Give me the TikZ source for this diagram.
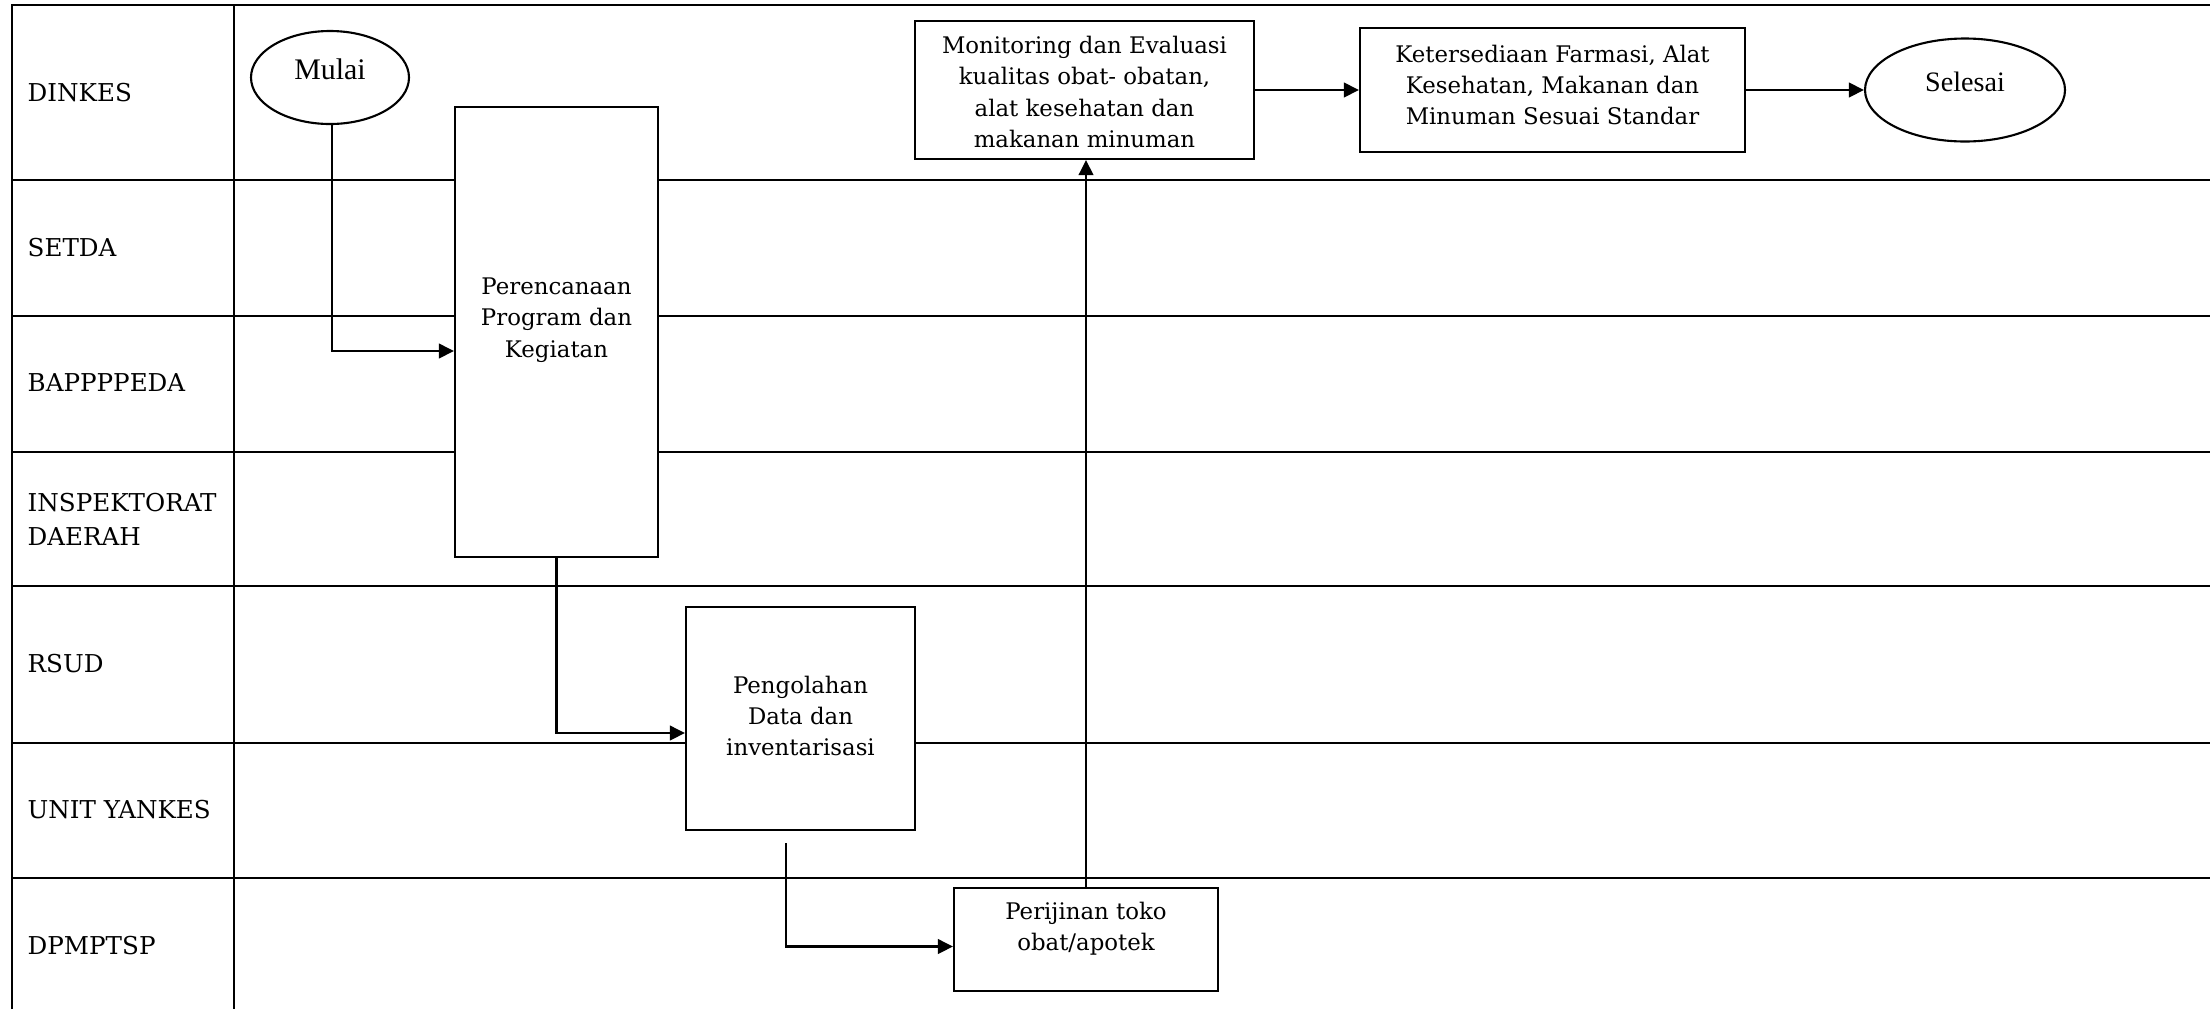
\documentclass[tikz,border=0pt]{standalone}
\usepackage{fontspec}
\setmainfont{DejaVu Serif}
\newfontfamily\ellfont{Liberation Serif}
\usetikzlibrary{shapes.geometric,arrows.meta}

\tikzset{
  lane/.style={line width=0.55pt},
  border/.style={line width=0.65pt},
  lanelabel/.style={anchor=west, inner sep=0pt, align=left,
    font=\fontsize{7}{9.6}\selectfont},
  box/.style={draw, line width=0.6pt, fill=white, inner sep=0pt},
  boxtext/.style={align=center, inner sep=0pt,
    font=\fontsize{6.5}{8.9}\selectfont},
  terminal/.style={draw, ellipse, line width=0.6pt, fill=white, inner sep=0pt},
  arr/.style={line width=0.65pt, -{Triangle[length=1.5mm, width=1.45mm]}},
}

\begin{document}
\begin{tikzpicture}[x=0.1mm, y=-0.1mm]
  \useasboundingbox (0,0) rectangle (2210,1009);

  % swimlane grid
  \draw[border] (12,1009) -- (12,5) -- (2210,5);
  \draw[border] (234,5) -- (234,1009);
  \foreach \yy in {180,316,452,586,743,878}
    \draw[lane] (12,\yy) -- (2210,\yy);

  % lane names
  \node[lanelabel] (l1) at (27,93)  {DINKES};
  \node[lanelabel] (l2) at (27,248) {SETDA};
  \node[lanelabel] (l3) at (27,383) {BAPPPPEDA};
  \node[lanelabel] (l4) at (27,519) {INSPEKTORAT\\DAERAH};
  \node[lanelabel] (l5) at (27,664) {RSUD};
  \node[lanelabel] (l6) at (27,810) {UNIT YANKES};
  \node[lanelabel] (l7) at (27,946) {DPMPTSP};

  % process steps
  \node[terminal, minimum width=15.8mm, minimum height=9.3mm] (mulai) at (330,77.5) {};
  \node[inner sep=0pt, font=\ellfont\fontsize{8.5}{10}\selectfont] (mulaitext) at (330,69) {Mulai};

  \node[box, minimum width=20.3mm, minimum height=45mm] (plan) at (556.5,332) {};
  \node[boxtext] (plantext) at (556.5,320) {Perencanaan\\Program dan\\Kegiatan};

  \node[box, minimum width=22.9mm, minimum height=22.3mm] (peng) at (800.5,718.5) {};
  \node[boxtext] (pengtext) at (800.5,716) {Pengolahan\\Data dan\\inventarisasi};

  \node[box, minimum width=26.4mm, minimum height=10.3mm] (izin) at (1086,939.5) {};
  \node[boxtext] (izintext) at (1086,929) {Perijinan toko\\obat/apotek};

  \node[box, minimum width=33.9mm, minimum height=13.8mm] (monev) at (1084.5,90) {};
  \node[boxtext] (monevtext) at (1084.5,92) {Monitoring dan Evaluasi\\kualitas obat- obatan,\\alat kesehatan dan\\makanan minuman};

  \node[box, minimum width=38.5mm, minimum height=12.4mm] (sedia) at (1552.5,90) {};
  \node[boxtext] (sediatext) at (1552.5,85) {Ketersediaan Farmasi, Alat\\Kesehatan, Makanan dan\\Minuman Sesuai Standar};

  \node[terminal, minimum width=20mm, minimum height=10.3mm] (selesai) at (1965,90) {};
  \node[inner sep=0pt, font=\ellfont\fontsize{8}{10}\selectfont] (selesaitext) at (1965,82) {Selesai};

  % flow
  \coordinate (pengout) at (786,843);
  \draw[arr] ([xshift=0.2mm]mulai.south) |- ([yshift=-1.9mm]plan.west);
  \draw[arr] (plan.south) |- ([yshift=-1.45mm]peng.west);
  \draw[arr] (pengout) |- ([yshift=-0.7mm]izin.west);
  \draw[arr] (izin.north) -- (izin.north |- monev.south);
  \draw[arr] (monev.east) -- (sedia.west);
  \draw[arr] (sedia.east) -- (selesai.west);
\end{tikzpicture}
\end{document}
